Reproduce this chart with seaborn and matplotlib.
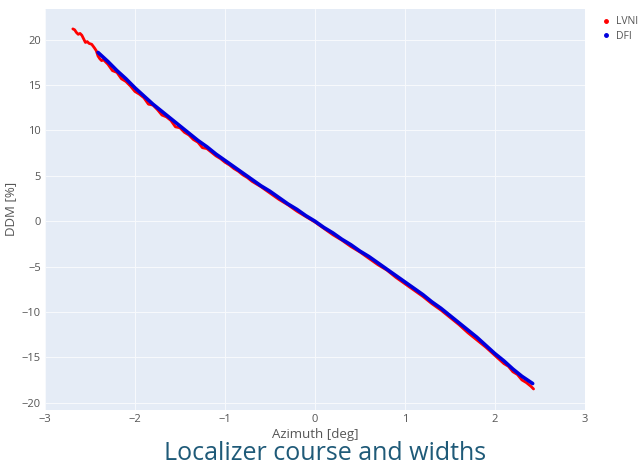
import pandas as pd
import matplotlib.pyplot as plt
import seaborn as sns
from matplotlib.lines import Line2D

# LVNI (red) trace
lvni_az = [-2.69, -2.67, -2.65, -2.63, -2.61, -2.59, -2.57, -2.55, -2.53, -2.51,
           -2.48, -2.45, -2.43, -2.41, -2.39, -2.37, -2.35, -2.30, -2.25, -2.20,
           -2.15, -2.10, -2.05, -2.00, -1.95, -1.90, -1.85, -1.80, -1.75, -1.70,
           -1.65, -1.60, -1.55, -1.50, -1.45, -1.40, -1.35, -1.30, -1.25, -1.20,
           -1.15, -1.10, -1.05, -1.00, -0.95, -0.90, -0.85, -0.80, -0.75, -0.70,
           -0.65, -0.60, -0.50, -0.40, -0.30, -0.20, -0.10, 0.00, 0.10, 0.20,
           0.30, 0.40, 0.50, 0.60, 0.70, 0.80, 0.90, 1.00, 1.10, 1.20,
           1.30, 1.40, 1.50, 1.60, 1.70, 1.80, 1.90, 2.00, 2.10, 2.15,
           2.20, 2.25, 2.30, 2.35, 2.40, 2.43]
lvni_ddm = [21.2, 21.1, 20.8, 20.6, 20.7, 20.5, 20.1, 19.7, 19.8, 19.6,
            19.5, 19.1, 18.8, 18.2, 17.9, 17.7, 17.8, 17.3, 16.6, 16.4,
            15.7, 15.4, 14.9, 14.3, 14.0, 13.6, 12.9, 12.8, 12.3, 11.7,
            11.5, 11.1, 10.4, 10.3, 9.8, 9.5, 9.0, 8.7, 8.1, 8.0,
            7.6, 7.2, 6.9, 6.5, 6.2, 5.8, 5.5, 5.1, 4.8, 4.4,
            4.1, 3.8, 3.1, 2.4, 1.8, 1.1, 0.5, -0.1, -0.8, -1.5,
            -2.1, -2.8, -3.4, -4.1, -4.8, -5.4, -6.2, -6.9, -7.6, -8.3,
            -9.1, -9.8, -10.6, -11.4, -12.3, -13.1, -13.9, -14.8, -15.7, -16.0,
            -16.6, -16.9, -17.5, -17.8, -18.2, -18.5]

# DFI (blue) trace
dfi_az = [-2.41, -2.30, -2.20, -2.10, -2.00, -1.90, -1.80, -1.70, -1.60, -1.50,
          -1.40, -1.30, -1.20, -1.10, -1.00, -0.90, -0.80, -0.70, -0.60, -0.50,
          -0.40, -0.30, -0.20, -0.10, 0.00, 0.10, 0.20, 0.30, 0.40, 0.50,
          0.60, 0.70, 0.80, 0.90, 1.00, 1.10, 1.20, 1.30, 1.40, 1.50,
          1.60, 1.70, 1.80, 1.90, 2.00, 2.10, 2.20, 2.30, 2.42]
dfi_ddm = [18.6, 17.6, 16.6, 15.7, 14.7, 13.8, 12.9, 12.1, 11.3, 10.5,
           9.7, 8.9, 8.2, 7.4, 6.7, 6.0, 5.3, 4.6, 3.9, 3.3,
           2.6, 1.9, 1.3, 0.6, 0.0, -0.7, -1.3, -2.0, -2.6, -3.3,
           -3.9, -4.6, -5.3, -6.0, -6.7, -7.4, -8.1, -8.9, -9.6, -10.4,
           -11.2, -12.0, -12.8, -13.7, -14.6, -15.4, -16.3, -17.1, -17.9]

x_ticks = [-3, -2, -1, 0, 1, 2, 3]
y_ticks = [-20, -15, -10, -5, 0, 5, 10, 15, 20]

# plotly-like look
sns.set_theme(style="darkgrid", rc={"axes.facecolor": "#E5ECF6", "grid.color": "#f7f9fc",
                                    "grid.linewidth": 0.8})
plt.rcParams['font.family'] = ['Open Sans', 'DejaVu Sans']

fig = plt.figure(figsize=(6.42, 4.70), dpi=100)
ax = fig.add_axes([0.070, 0.128, 0.841, 0.853])

lvni = pd.DataFrame({"az": lvni_az, "ddm": lvni_ddm})
dfi = pd.DataFrame({"az": dfi_az, "ddm": dfi_ddm})
sns.lineplot(data=lvni, x="az", y="ddm", sort=False, color="#ff0000", linewidth=2.0, ax=ax)
sns.lineplot(data=dfi, x="az", y="ddm", sort=False, color="#0000dd", linewidth=2.6, ax=ax)

ax.set_xlim(-3, 3)
ax.set_ylim(-20.8, 23.4)
ax.set_xticks(x_ticks)
ax.set_yticks(y_ticks)
ax.set_xticklabels([str(t).replace('-', '\u2212') for t in x_ticks])
ax.set_yticklabels([str(t).replace('-', '\u2212') for t in y_ticks])
ax.tick_params(axis='both', labelsize=8, colors="#555555", length=0, pad=3)
for s in ax.spines.values():
    s.set_visible(False)

ax.set_xlabel("Azimuth [deg]", fontsize=9.5, color="#555555", labelpad=2)
ax.set_ylabel("DDM [%]", fontsize=9.5, color="#555555", labelpad=3)

fig.text(0.506, 0.022, "Localizer course and widths", ha="center", va="baseline",
         fontsize=18, color="#1f5a78")

handles = [Line2D([], [], marker='o', linestyle='none', markersize=2.5, color="#ff0000"),
           Line2D([], [], marker='o', linestyle='none', markersize=2.5, color="#0000dd")]
fig.legend(handles, ["LVNI", "DFI"], loc="upper left", bbox_to_anchor=(0.925, 0.985),
           frameon=False, fontsize=7.5, handlelength=0.6, handletextpad=0.6,
           labelspacing=0.35, labelcolor="#555555")

fig.savefig("out.png", dpi=100)
